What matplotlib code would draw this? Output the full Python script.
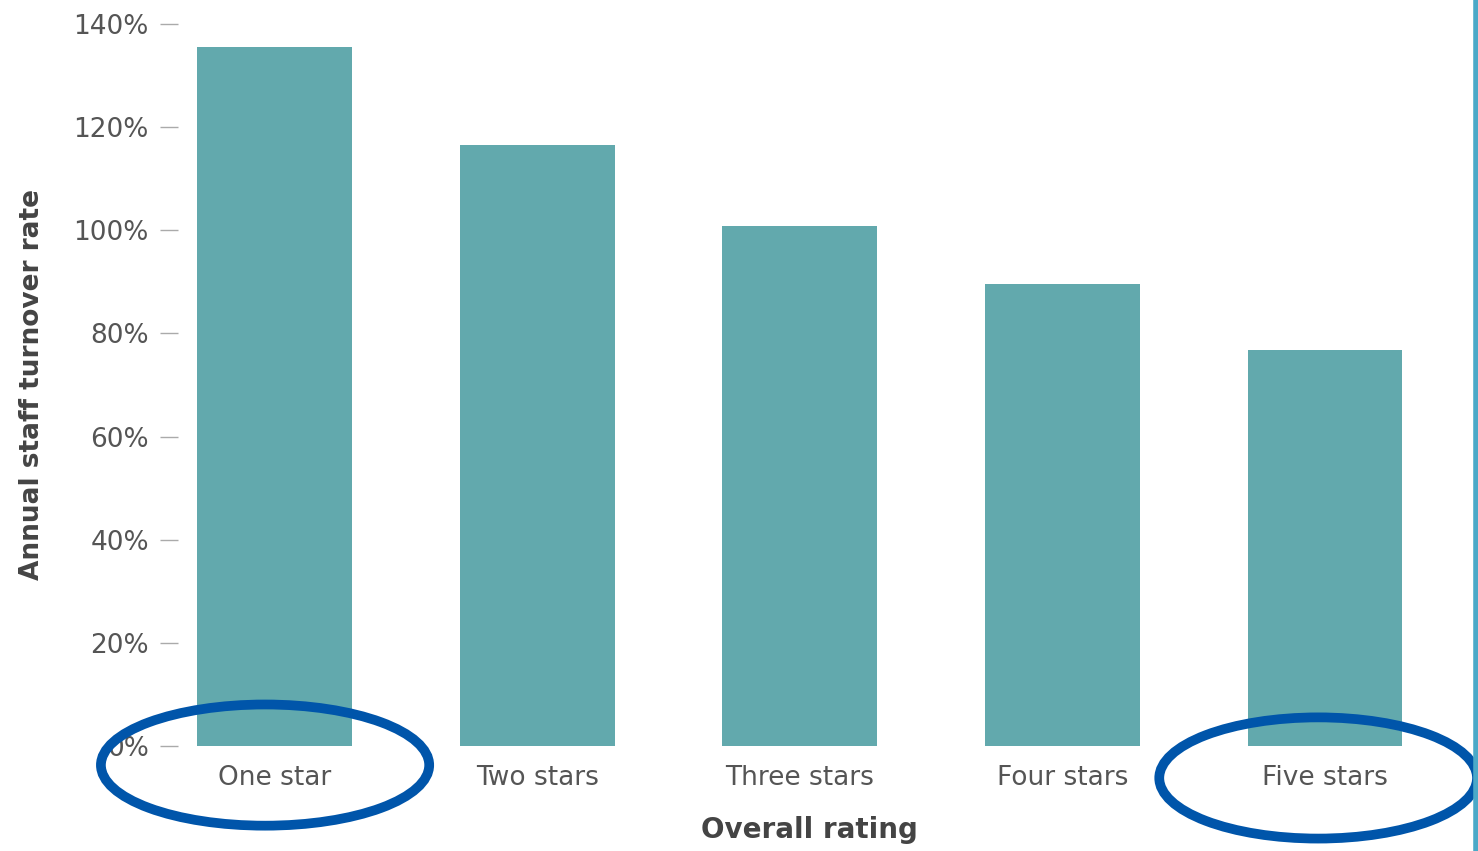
import numpy as np
import matplotlib
matplotlib.use('Agg')
import matplotlib.pyplot as plt
from matplotlib.patches import Ellipse

# ── Data ───────────────────────────────────────────────────────────────────────
categories = ["One star", "Two stars", "Three stars", "Four stars", "Five stars"]
turnover   = [135.5, 116.5, 100.8, 89.5, 76.7]   # annual staff turnover, %
y_ticks    = [0, 20, 40, 60, 80, 100, 120, 140]
circled    = ["One star", "Five stars"]

BAR_COLOR   = '#62A9AD'
TEXT_COLOR  = '#555555'
LABEL_COLOR = '#444444'
MARK_COLOR  = '#0055AA'

# ── Figure ─────────────────────────────────────────────────────────────────────
W, H = 1478, 851
fig = plt.figure(figsize=(W / 100, H / 100), dpi=100, facecolor='white')
ax_left, ax_right = 178 / W, 1440 / W
ax_bottom, ax_top = 1 - 746 / H, 1 - 24 / H
ax = fig.add_axes([ax_left, ax_bottom, ax_right - ax_left, ax_top - ax_bottom])

x = np.arange(len(categories))
ax.bar(x, turnover, width=0.59, color=BAR_COLOR, zorder=2)

ax.set_xlim(-0.3675, 4.438)
ax.set_ylim(0, 140)
for s in ax.spines.values():
    s.set_visible(False)

ax.set_yticks(y_ticks)
ax.set_yticklabels([f"{v}%" for v in y_ticks], fontsize=19, color=TEXT_COLOR)
ax.tick_params(axis='y', length=13, width=1, color='#AAAAAA', pad=8)

ax.set_xticks(x)
ax.set_xticklabels(categories, fontsize=19, color=TEXT_COLOR)
ax.tick_params(axis='x', length=0, pad=14)

ax.set_ylabel("Annual staff turnover rate", fontsize=19, fontweight='bold',
              color=LABEL_COLOR)
ax.set_xlabel("Overall rating", fontsize=20, fontweight='bold',
              color=LABEL_COLOR, labelpad=18)
ax.yaxis.set_label_coords(-0.105, 0.5)

# ── Hand-drawn style circles around the extreme ratings ────────────────────────
offsets = {"One star": (-0.036, -3.7, 1.25, 23.5),
           "Five stars": (-0.026, -6.2, 1.21, 23.5)}
for name in circled:
    i = categories.index(name)
    dx, cy, w, h = offsets[name]
    ax.add_patch(Ellipse((i + dx, cy), w, h, fill=False, edgecolor=MARK_COLOR,
                         linewidth=7, clip_on=False, zorder=5))

# thin blue frame edge on the right
fig.add_artist(plt.Line2D([1475.5 / W, 1475.5 / W], [0, 1],
                          transform=fig.transFigure, color='#4BA9C8', linewidth=4))

fig.savefig("out.png", dpi=100, facecolor='white')
